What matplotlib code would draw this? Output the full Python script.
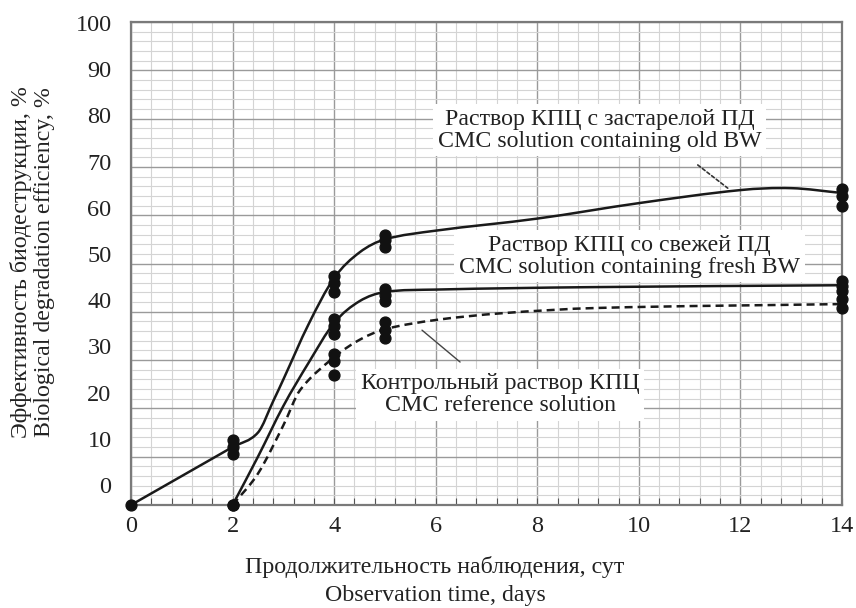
import numpy as np
import matplotlib
matplotlib.use('Agg')
import matplotlib.pyplot as plt
from matplotlib.path import Path
from matplotlib.patches import PathPatch
from matplotlib.ticker import MultipleLocator

plt.rcParams['font.family'] = ['Liberation Serif', 'DejaVu Serif']

# ---------------- data ----------------
x_ticks = [0, 2, 4, 6, 8, 10, 12, 14]
y_tick_values = [0, 10, 20, 30, 40, 50, 60, 70, 80, 90, 100]

# replicate measurements (markers)
old_x = [0, 2, 2, 2, 4, 4, 4, 5, 5, 5, 14, 14, 14]
old_y = [0, 13.5, 12.0, 10.5, 47.5, 46.0, 44.0, 56.0, 54.8, 53.5, 65.5, 64.0, 62.0]
fresh_x = [2, 4, 4, 4, 5, 5, 5, 14, 14, 14]
fresh_y = [0, 38.5, 37.0, 35.5, 44.8, 43.5, 42.3, 46.3, 45.3, 44.3]
ctrl_x = [2, 4, 4, 4, 5, 5, 5, 14, 14]
ctrl_y = [0, 31.3, 29.8, 27.0, 37.8, 36.2, 34.6, 42.6, 40.8]

# smoothed trend lines
old_line_x = [0, 2, 2.5, 2.8, 3.0, 3.5, 4, 4.5, 5, 6, 8, 10, 12, 13, 14]
old_line_y = [0, 12, 15, 21.5, 26, 37.5, 47.0, 52.3, 55, 56.8, 59.3, 62.5, 65.2, 65.6, 64.6]
fresh_line_x = [2, 2.5, 3, 3.5, 4, 4.5, 5, 6, 9, 14]
fresh_line_y = [0, 10, 20.5, 29.5, 37.7, 42.2, 44.1, 44.6, 45.1, 45.5]
ctrl_line_x = [2, 2.5, 3, 3.33, 4, 4.5, 5, 6, 7.3, 9.2, 14]
ctrl_line_y = [0, 6.5, 16.5, 23.8, 30.6, 34.2, 36.4, 38.3, 39.7, 40.8, 41.6]

xlabel_ru = 'Продолжительность наблюдения, сут'
xlabel_en = 'Observation time, days'
ylabel_ru = 'Эффективность биодеструкции, %'
ylabel_en = 'Biological degradation efficiency, %'
txt_old = 'Раствор КПЦ с застарелой ПД\nCMC solution containing old BW'
txt_fresh = 'Раствор КПЦ со свежей ПД\nCMC solution containing fresh BW'
txt_ctrl = 'Контрольный раствор КПЦ\nCMC reference solution'

FS = 17.2
FS_TICK = 17.5
INK = '#1a1a1a'
TXT = '#222222'


def smooth_path(xs, ys):
    xs = np.asarray(xs, float)
    ys = np.asarray(ys, float)
    n = len(xs)
    m = np.zeros(n)
    for i in range(n):
        if i == 0:
            m[i] = (ys[1] - ys[0]) / (xs[1] - xs[0])
        elif i == n - 1:
            m[i] = (ys[-1] - ys[-2]) / (xs[-1] - xs[-2])
        else:
            m[i] = (ys[i + 1] - ys[i - 1]) / (xs[i + 1] - xs[i - 1])
    verts = [(xs[0], ys[0])]
    codes = [Path.MOVETO]
    for i in range(n - 1):
        h = xs[i + 1] - xs[i]
        verts += [(xs[i] + h / 3, ys[i] + m[i] * h / 3),
                  (xs[i + 1] - h / 3, ys[i + 1] - m[i + 1] * h / 3),
                  (xs[i + 1], ys[i + 1])]
        codes += [Path.CURVE4] * 3
    return Path(verts, codes)


fig = plt.figure(figsize=(8.56, 6.08), dpi=100)
ax = fig.add_axes([131 / 856, 1 - 505 / 608, (842 - 131) / 856, (505 - 22) / 608])

ax.set_xlim(0, 14)
ax.set_ylim(0, 100)

# grid
ax.xaxis.set_major_locator(MultipleLocator(2))
ax.xaxis.set_minor_locator(MultipleLocator(0.4))
ax.yaxis.set_major_locator(MultipleLocator(10))
ax.yaxis.set_minor_locator(MultipleLocator(2))
ax.grid(which='major', color='#9a9a9a', lw=1.0, zorder=0)
ax.grid(which='minor', color='#d4d4d4', lw=0.8, zorder=0)
ax.set_axisbelow(True)

ax.set_xticks(x_ticks)
ax.set_xticklabels([str(v) for v in x_ticks], fontsize=FS_TICK, color=TXT)
ax.tick_params(axis='x', which='major', direction='in', length=5, width=0.8,
               color='#555', pad=8)
ax.tick_params(axis='x', which='minor', direction='in', length=5, width=0.8,
               color='#555')
ax.tick_params(axis='y', which='both', length=0, labelleft=False)

for s in ax.spines.values():
    s.set_color('#7a7a7a')
    s.set_linewidth(1.6)

# y tick labels (as printed in the source, on a slightly compressed scale)
k = 4.83 / 4.62
c = 1.0 / 4.62
sec = ax.secondary_yaxis('left',
                         functions=(lambda d: 100 - (100 - d) * k + c,
                                    lambda v: 100 - (100 - v + c) / k))
sec.set_yticks(y_tick_values)
sec.set_yticklabels([str(v) for v in y_tick_values], fontsize=FS_TICK, color=TXT)
sec.tick_params(length=0, pad=14)
sec.spines['left'].set_visible(False)

# curves
ax.add_patch(PathPatch(smooth_path(old_line_x, old_line_y), fill=False,
                       lw=1.8, color=INK, zorder=4, capstyle='round'))
ax.add_patch(PathPatch(smooth_path(fresh_line_x, fresh_line_y), fill=False,
                       lw=1.8, color=INK, zorder=4, capstyle='round'))
ax.add_patch(PathPatch(smooth_path(ctrl_line_x, ctrl_line_y), fill=False,
                       lw=1.8, color=INK, zorder=4, ls=(0, (3.2, 2.0))))

# markers
for xs, ys in [(old_x, old_y), (fresh_x, fresh_y), (ctrl_x, ctrl_y)]:
    ax.plot(xs, ys, 'o', color='#111', ms=7.8, zorder=5, clip_on=False)

# annotations
box = dict(boxstyle='square,pad=0.2', fc='white', ec='none')
ax.text(9.23, 77.6, txt_old, ha='center', va='center', fontsize=FS,
        color=TXT, linespacing=1.05, bbox=box, zorder=3)
ax.text(9.82, 51.5, txt_fresh, ha='center', va='center', fontsize=FS,
        color=TXT, linespacing=1.05, bbox=box, zorder=3)
ax.text(7.27, 22.8, txt_ctrl, ha='center', va='center', fontsize=FS,
        color=TXT, linespacing=1.05, bbox=box, zorder=3)

ax.annotate('', xy=(11.75, 65.6), xytext=(11.16, 70.4),
            arrowprops=dict(arrowstyle='-', color='#333', lw=1.2,
                            ls=(0, (2, 1.5)), shrinkA=0, shrinkB=0), zorder=3)
ax.annotate('', xy=(5.73, 36.2), xytext=(6.48, 29.6),
            arrowprops=dict(arrowstyle='-', color='#444', lw=1.0,
                            shrinkA=0, shrinkB=0), zorder=3)

# axis titles
fig.text(435 / 856, 1 - 567 / 608, xlabel_ru, ha='center', va='center',
         fontsize=FS, color=TXT)
fig.text(435 / 856, 1 - 595 / 608, xlabel_en, ha='center', va='center',
         fontsize=FS, color=TXT)
fig.text(21 / 856, 1 - 262 / 608, ylabel_ru, ha='center', va='center',
         rotation=90, fontsize=FS, color=TXT)
fig.text(45 / 856, 1 - 262 / 608, ylabel_en, ha='center', va='center',
         rotation=90, fontsize=FS, color=TXT)

fig.savefig('out.png', dpi=100, facecolor='white')
